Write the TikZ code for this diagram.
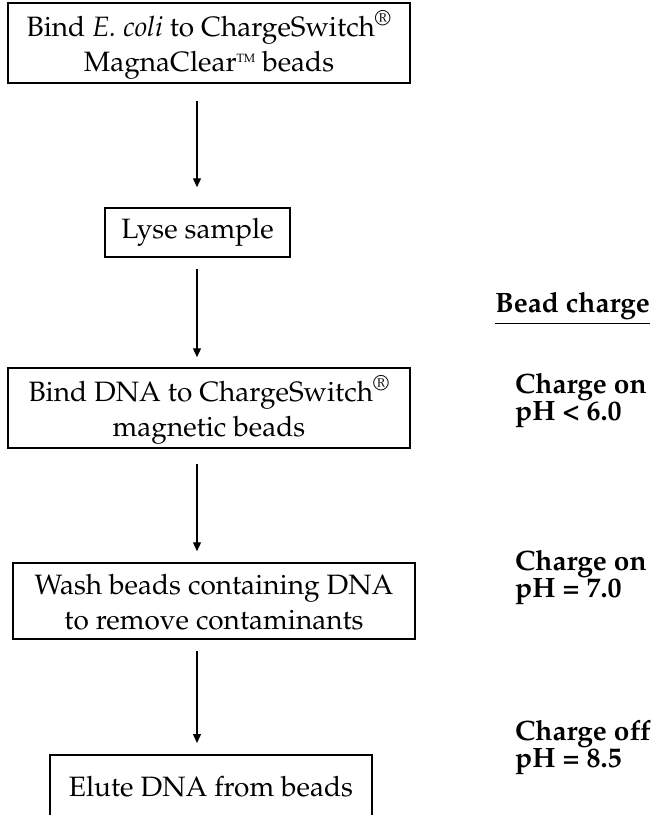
\documentclass[tikz,border=0pt]{standalone}
\usepackage[T1]{fontenc}
\usepackage{mathpazo}
\usepackage{textcomp}
\usetikzlibrary{arrows.meta}
\newcommand{\tmsign}{\raisebox{0.62ex}{\fontsize{12}{12}\selectfont TM}}
\tikzset{
  stepbox/.style={draw, line width=1.5pt, inner sep=0pt, align=center,
    font=\fontsize{28}{35}\selectfont},
  twoline/.style={text height=56pt, text depth=0pt},
  flow/.style={line width=1.3pt, -{Triangle[length=9pt,width=8pt]}},
  chg/.style={anchor=base west, inner sep=0pt, align=left,
    font=\fontsize{28}{25}\selectfont\bfseries},
}
\begin{document}
\begin{tikzpicture}[x=1pt,y=-1pt]
\useasboundingbox (0,0) rectangle (660,815);
\clip (0,0) rectangle (660,815);
\coordinate (ax) at (197,0);
\node[stepbox, twoline, minimum width=402pt, minimum height=80pt] (b1) at (209,43)
  {Bind \textit{E. coli} to ChargeSwitch\textsuperscript{\textregistered}\\
   MagnaClear\tmsign\ beads};
\node[stepbox, minimum width=185pt, minimum height=49pt] (b2) at (197.5,232.5) {Lyse sample};
\node[stepbox, twoline, minimum width=402pt, minimum height=80pt] (b3) at (209,408)
  {Bind DNA to ChargeSwitch\textsuperscript{\textregistered}\\ magnetic beads};
\node[stepbox, twoline, minimum width=402pt, minimum height=76pt] (b4) at (214,601)
  {Wash beads containing DNA\\ to remove contaminants};
\node[stepbox, text height=21pt, text depth=18pt, minimum width=322pt, minimum height=80pt, anchor=north] (b5) at (211,754)
  {Elute DNA from beads};
\draw[flow, shorten <=17pt, shorten >=20pt] (b1.south -| ax) -- (b2.north -| ax);
\draw[flow, shorten <=11pt, shorten >=10pt] (b2.south -| ax) -- (b3.north -| ax);
\draw[flow, shorten <=15pt, shorten >=11pt] (b3.south -| ax) -- (b4.north -| ax);
\draw[flow, shorten <=11pt, shorten >=11pt] (b4.south -| ax) -- (b5.north -| ax);
\node[anchor=base west, inner sep=0pt, font=\fontsize{28}{25}\selectfont\bfseries] (bc) at (495,312)
  {\underline{Bead charge}};
\node[chg] (c1) at (515,420) {Charge on\\ pH {\textless} 6.0};
\node[chg] (c2) at (515,597) {Charge on\\ pH = 7.0};
\node[chg] (c3) at (515,767) {Charge off\\ pH = 8.5};
\end{tikzpicture}
\end{document}
